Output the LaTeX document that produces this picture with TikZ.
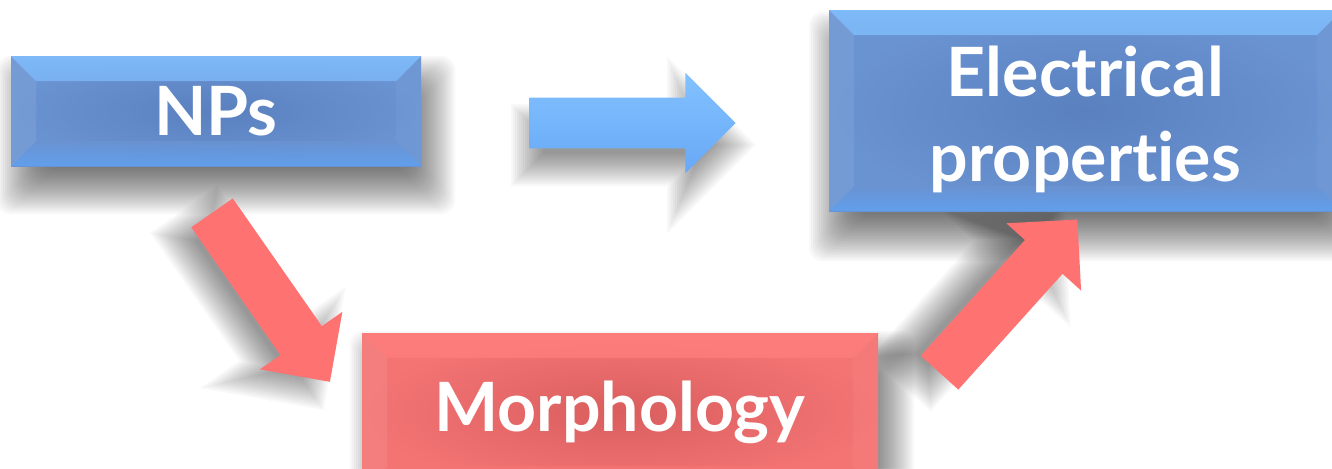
\documentclass[tikz,border=0pt]{standalone}
\usepackage{fontspec}
\setmainfont{Lato}[Ligatures=NoCommon]
\usetikzlibrary{shapes.arrows,calc,backgrounds}
\definecolor{bluebase}{HTML}{6A93D2}
\definecolor{bluecenter}{HTML}{5A80BE}
\definecolor{bluelight}{HTML}{82C0FF}
\definecolor{bluebottom}{HTML}{5FA2F2}
\definecolor{redbase}{HTML}{F47474}
\definecolor{redcenter}{HTML}{DA5E5E}
\definecolor{redlight}{HTML}{FF7E7E}
\definecolor{redbottom}{HTML}{FF6262}
\definecolor{redarrow}{HTML}{FF7272}
\definecolor{bluearrow}{HTML}{6FA6EE}
\definecolor{bluearrowlight}{HTML}{82C2FF}
\definecolor{bluearrowbottom}{HTML}{68A8F6}
\tikzset{
  shadowlayer/.style={fill=black, fill opacity=0.026},
  bevel/.style n args={3}{path picture={
    \def\bw{18.75pt}
    \shade[top color=#2, bottom color=#1, fill opacity=0.85]
      (path picture bounding box.north west) -- (path picture bounding box.north east)
      -- ($(path picture bounding box.north east)+(-\bw,-\bw)$)
      -- ($(path picture bounding box.north west)+(\bw,-\bw)$) -- cycle;
    \shade[top color=#1, bottom color=#3, fill opacity=0.8]
      (path picture bounding box.south west) -- (path picture bounding box.south east)
      -- ($(path picture bounding box.south east)+(-\bw,\bw)$)
      -- ($(path picture bounding box.south west)+(\bw,\bw)$) -- cycle;
    \fill[white, fill opacity=0.08]
      (path picture bounding box.north west) -- (path picture bounding box.south west)
      -- ($(path picture bounding box.south west)+(\bw,\bw)$)
      -- ($(path picture bounding box.north west)+(\bw,-\bw)$) -- cycle;
    \fill[white, fill opacity=0.04]
      (path picture bounding box.north east) -- (path picture bounding box.south east)
      -- ($(path picture bounding box.south east)+(-\bw,\bw)$)
      -- ($(path picture bounding box.north east)+(-\bw,-\bw)$) -- cycle;
  }},
  boxtext/.style={text=white, font=\fontsize{51}{63.75}\selectfont\bfseries},
  bluebox/.style={rectangle, inner sep=0pt, outer sep=0pt,
      inner color=bluecenter, outer color=bluebase,
      bevel={bluebase}{bluelight}{bluebottom}, boxtext},
  redbox/.style={rectangle, inner sep=0pt, outer sep=0pt,
      inner color=redcenter, outer color=redbase,
      bevel={redbase}{redlight}{redbottom}, boxtext},
  blockarrow/.style={single arrow, inner xsep=0pt, inner ysep=18.75pt,
      text height=0pt, text depth=0pt, text width=0pt, outer sep=0pt,
      minimum height=154.5pt, minimum width=75pt,
      single arrow head extend=18.75pt, single arrow tip angle=90},
}
% soft shadow of a box node: #1 node, #2 dx, #3 dy (px)
\newcommand{\boxshadow}[3]{%
  \foreach \e in {-22,-20,...,24}{
    \fill[shadowlayer, rounded corners=10pt]
      ($(#1.north west)+(#2,#3)+(-\e,-\e)$) rectangle ($(#1.south east)+(#2,#3)+(\e,\e)$);
  }}
% soft shadow of a block arrow node: #1 node, #2 angle, #3 dx, #4 dy (px)
\newcommand{\arrowshadow}[4]{%
  \begin{scope}[shift={($(#1.center)+(#3,#4)$)}, rotate=#2]
  \foreach \e in {-16,-14,...,16}{
    \pgfmathsetmacro\ta{-103-\e}
    \pgfmathsetmacro\sa{-25-\e}
    \pgfmathsetmacro\sb{25+\e}
    \pgfmathsetmacro\hb{53-\e}
    \pgfmathsetmacro\ha{-50-\e*2.4142}
    \pgfmathsetmacro\hc{50+\e*2.4142}
    \pgfmathsetmacro\tp{103+\e*1.4142}
    \fill[shadowlayer] (\ta,\sa) -- (\hb,\sa) -- (\hb,\ha) -- (\tp,0) -- (\hb,\hc) -- (\hb,\sb) -- (\ta,\sb) -- cycle;
  }
  \end{scope}}
\begin{document}
\begin{tikzpicture}[x=0.75pt, y=-0.75pt]
\useasboundingbox (0,0) rectangle (1332,468);
\clip (0,0) rectangle (1332,468);

\node[bluebox, minimum width=307.5pt, minimum height=82.5pt] (nps) at (216,111) {NPs};
\node[bluebox, minimum width=384.75pt, minimum height=150.75pt, align=center]
  (elec) at (1085.5,110.5) {\rule{0pt}{51pt}Electrical\\properties};
\node[redbox, minimum width=387pt, minimum height=118.5pt] (morph) at (620,412) {Morphology};

\node[blockarrow, top color=bluearrowlight, middle color=bluearrow, bottom color=bluearrowbottom]
  (arrowtop) at (620,123) {};
\node[blockarrow, fill=redarrow, rotate=-55.1] (arrowdown) at (263.75,287) {};
\node[blockarrow, fill=redarrow, rotate=48] (arrowup) at (1000,305.5) {};

\begin{pgfonlayer}{background}
  \fill[white] (0,0) rectangle (1332,468);
  \boxshadow{nps}{10}{24}
  \boxshadow{elec}{4}{26}
  \boxshadow{morph}{12}{22}
  \arrowshadow{arrowtop}{0}{10}{22}
  \arrowshadow{arrowdown}{-55.1}{-12}{20}
  \arrowshadow{arrowup}{48}{-20}{-10}
\end{pgfonlayer}
\end{tikzpicture}
\end{document}
